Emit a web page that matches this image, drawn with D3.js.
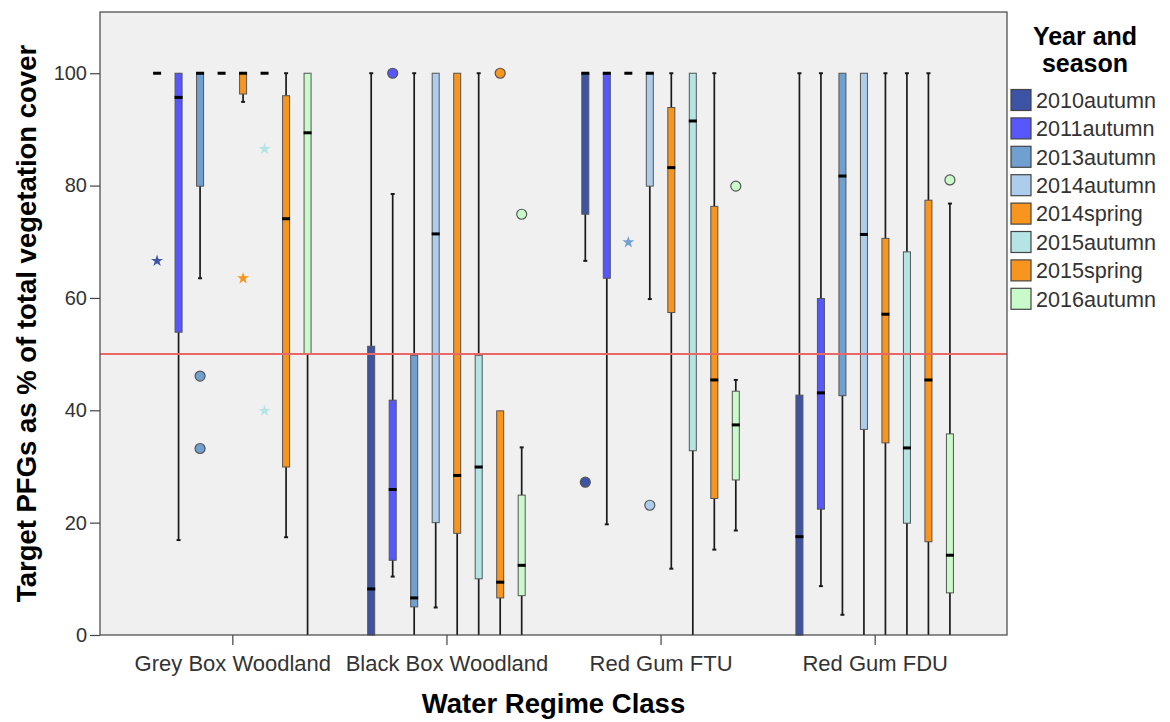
<!DOCTYPE html>
<html>
<head>
<meta charset="utf-8">
<script src="https://cdn.jsdelivr.net/npm/d3@7"></script>
<style>
  body { margin: 0; background: #fff; }
  svg text { font-family: "Liberation Sans", Arial, sans-serif; }
</style>
</head>
<body>
<svg id="chart" width="1170" height="722"></svg>
<script>
// categories and groups
const regimes = ["Grey Box Woodland", "Black Box Woodland", "Red Gum FTU", "Red Gum FDU"];
const seasons = ["2010autumn", "2011autumn", "2013autumn", "2014autumn",
                 "2014spring", "2015autumn", "2015spring", "2016autumn"];

// [low whisker, q1, median, q3, high whisker] for each season
const greyBoxStats = [
  [100, 100, 100, 100, 100],
  [16.9, 53.9, 95.7, 100, 100],
  [63.5, 79.9, 100, 100, 100],
  [100, 100, 100, 100, 100],
  [94.9, 96.3, 100, 100, 100],
  [100, 100, 100, 100, 100],
  [17.4, 29.9, 74.1, 96.0, 100],
  [0, 50.0, 89.4, 100, 100]
];
const blackBoxStats = [
  [0, 0, 8.2, 51.4, 100],
  [10.4, 13.3, 25.9, 41.8, 78.5],
  [0, 5.0, 6.6, 49.8, 100],
  [4.9, 20.0, 71.4, 100, 100],
  [0, 18.1, 28.4, 100, 100],
  [0, 10.0, 29.9, 49.8, 100],
  [0, 6.6, 9.4, 39.9, 39.9],
  [0, 7.0, 12.4, 24.9, 33.4]
];
const redGumFtuStats = [
  [66.6, 74.9, 100, 100, 100],
  [19.7, 63.5, 100, 100, 100],
  [100, 100, 100, 100, 100],
  [59.8, 79.9, 100, 100, 100],
  [11.8, 57.4, 83.2, 93.9, 100],
  [0, 32.8, 91.5, 100, 100],
  [15.2, 24.3, 45.4, 76.3, 100],
  [18.6, 27.6, 37.4, 43.4, 45.4]
];
const redGumFduStats = [
  [0, 0, 17.5, 42.7, 100],
  [8.7, 22.4, 43.1, 59.9, 100],
  [3.6, 42.6, 81.7, 100, 100],
  [0, 36.6, 71.3, 100, 100],
  [0, 34.2, 57.1, 70.6, 100],
  [0, 19.9, 33.3, 68.2, 100],
  [0, 16.6, 45.4, 77.4, 100],
  [0, 7.5, 14.2, 35.8, 76.8]
];

// outliers (circles) and extremes (stars): [regime, season, value]
const outlierPoints = [
  ["Grey Box Woodland", "2013autumn", 46.1],
  ["Grey Box Woodland", "2013autumn", 33.2],
  ["Black Box Woodland", "2011autumn", 100],
  ["Black Box Woodland", "2015spring", 100],
  ["Black Box Woodland", "2016autumn", 74.9],
  ["Red Gum FTU", "2010autumn", 27.2],
  ["Red Gum FTU", "2014autumn", 23.1],
  ["Red Gum FTU", "2016autumn", 79.9],
  ["Red Gum FDU", "2016autumn", 81.0]
];
const extremePoints = [
  ["Grey Box Woodland", "2010autumn", 66.6],
  ["Grey Box Woodland", "2014spring", 63.5],
  ["Grey Box Woodland", "2015autumn", 86.5],
  ["Grey Box Woodland", "2015autumn", 39.9],
  ["Red Gum FTU", "2013autumn", 69.9]
];

const yTicks = [0, 20, 40, 60, 80, 100];
const referenceValue = 50;

const seasonColors = ["#3d54a6", "#5858fa", "#70a0d0", "#aecdec",
                      "#f7951e", "#b4e4e4", "#f7951e", "#c9fac9"];

const svg = d3.select("#chart");
const plotL = 100, plotR = 1007, plotT = 12, plotB = 635;

const xOuter = d3.scalePoint().domain(regimes).range([plotL, plotR]).padding(0.618);
const xInner = d3.scalePoint().domain(seasons).range([-75.25, 75.25]);
const y = d3.scaleLinear().domain([0, 110.9]).range([plotB, plotT]);
const color = d3.scaleOrdinal().domain(seasons).range(seasonColors);
const xPos = (r, s) => xOuter(r) + xInner(s);

// plot background
svg.append("rect")
  .attr("x", plotL).attr("y", plotT)
  .attr("width", plotR - plotL).attr("height", plotB - plotT)
  .attr("fill", "#f0f0f0");

// boxes
const boxes = [];
[greyBoxStats, blackBoxStats, redGumFtuStats, redGumFduStats].forEach((stats, r) => {
  stats.forEach((s, k) => {
    boxes.push({regime: regimes[r], season: seasons[k],
                lo: s[0], q1: s[1], med: s[2], q3: s[3], hi: s[4]});
  });
});

const boxW = 7;
const g = svg.append("g");
const box = g.selectAll("g.box").data(boxes).enter().append("g")
  .attr("class", "box")
  .attr("transform", d => "translate(" + xPos(d.regime, d.season) + ",0)");

// whisker line
box.filter(d => d.hi > d.lo).append("line")
  .attr("x1", 0).attr("x2", 0)
  .attr("y1", d => y(d.lo)).attr("y2", d => y(d.hi))
  .attr("stroke", "#1a1a1a").attr("stroke-width", 1.7);

// whisker caps
box.filter(d => d.hi > d.q3).append("line")
  .attr("x1", -2).attr("x2", 2)
  .attr("y1", d => y(d.hi)).attr("y2", d => y(d.hi))
  .attr("stroke", "#1a1a1a").attr("stroke-width", 2);
box.filter(d => d.lo < d.q1 && d.lo > 0).append("line")
  .attr("x1", -2).attr("x2", 2)
  .attr("y1", d => y(d.lo)).attr("y2", d => y(d.lo))
  .attr("stroke", "#1a1a1a").attr("stroke-width", 2);

box.filter(d => d.q3 > d.q1).append("rect")
  .attr("x", -boxW / 2).attr("width", boxW)
  .attr("y", d => y(d.q3)).attr("height", d => y(d.q1) - y(d.q3))
  .attr("fill", d => color(d.season))
  .attr("stroke", "#555").attr("stroke-width", 1);

// median
box.append("rect")
  .attr("x", -boxW / 2 - 0.5).attr("width", boxW + 1)
  .attr("y", d => y(d.med) - 1.5).attr("height", 3)
  .attr("fill", "#000");

// outliers
g.selectAll("circle.out").data(outlierPoints).enter().append("circle")
  .attr("class", "out")
  .attr("cx", d => xPos(d[0], d[1]))
  .attr("cy", d => y(d[2]))
  .attr("r", 5)
  .attr("fill", d => color(d[1]))
  .attr("stroke", "#555").attr("stroke-width", 1.2);

// extremes
g.selectAll("path.ext").data(extremePoints).enter().append("path")
  .attr("class", "ext")
  .attr("d", d3.symbol(d3.symbolStar, 45))
  .attr("transform", d => "translate(" + xPos(d[0], d[1]) + "," + y(d[2]) + ")")
  .attr("fill", d => color(d[1]));

// reference line at 50
svg.append("line")
  .attr("x1", plotL).attr("x2", plotR)
  .attr("y1", y(referenceValue)).attr("y2", y(referenceValue))
  .attr("stroke", "#ea6767").attr("stroke-width", 2);

// frame
svg.append("rect")
  .attr("x", plotL).attr("y", plotT)
  .attr("width", plotR - plotL).attr("height", plotB - plotT)
  .attr("fill", "none").attr("stroke", "#444").attr("stroke-width", 1.2);

// y axis
const yAxis = svg.append("g")
  .attr("transform", "translate(" + plotL + ",0)")
  .call(d3.axisLeft(y).tickValues(yTicks).tickSize(10).tickPadding(3));
yAxis.select(".domain").remove();
yAxis.selectAll("line").attr("stroke", "#444").attr("stroke-width", 1.2);
yAxis.selectAll("text").attr("font-size", 20).attr("fill", "#333")
  .style("font-family", "'Liberation Sans', Arial, sans-serif");

// x axis
const xAxis = svg.append("g")
  .attr("transform", "translate(0," + plotB + ")")
  .call(d3.axisBottom(xOuter).tickSize(10).tickPadding(10));
xAxis.select(".domain").remove();
xAxis.selectAll("line").attr("stroke", "#444").attr("stroke-width", 1.2);
xAxis.selectAll("text").attr("font-size", 22).attr("fill", "#333")
  .style("font-family", "'Liberation Sans', Arial, sans-serif");

// axis titles
svg.append("text")
  .text("Water Regime Class")
  .attr("x", (plotL + plotR) / 2).attr("y", 713)
  .attr("text-anchor", "middle")
  .attr("font-size", 27.5).attr("font-weight", "bold");

svg.append("text")
  .text("Target PFGs as % of total vegetation cover")
  .attr("transform", "translate(36," + (plotT + plotB) / 2 + ") rotate(-90)")
  .attr("text-anchor", "middle")
  .attr("font-size", 27.5).attr("font-weight", "bold");

// legend
const legend = svg.append("g");
legend.append("text").text("Year and")
  .attr("x", 1085).attr("y", 45).attr("text-anchor", "middle")
  .attr("font-size", 25).attr("font-weight", "bold");
legend.append("text").text("season")
  .attr("x", 1085).attr("y", 72).attr("text-anchor", "middle")
  .attr("font-size", 25).attr("font-weight", "bold");

const item = legend.selectAll("g.item").data(seasons).enter().append("g")
  .attr("class", "item")
  .attr("transform", (d, i) => "translate(1011," + (100 + i * 28.4) + ")");
item.append("rect")
  .attr("x", 0).attr("y", -10.5).attr("width", 20).attr("height", 21)
  .attr("fill", d => color(d))
  .attr("stroke", "#444").attr("stroke-width", 1.2);
item.append("text").text(d => d)
  .attr("x", 25).attr("y", 0).attr("dy", "0.36em")
  .attr("font-size", 21.6).attr("fill", "#333");
</script>
</body>
</html>
